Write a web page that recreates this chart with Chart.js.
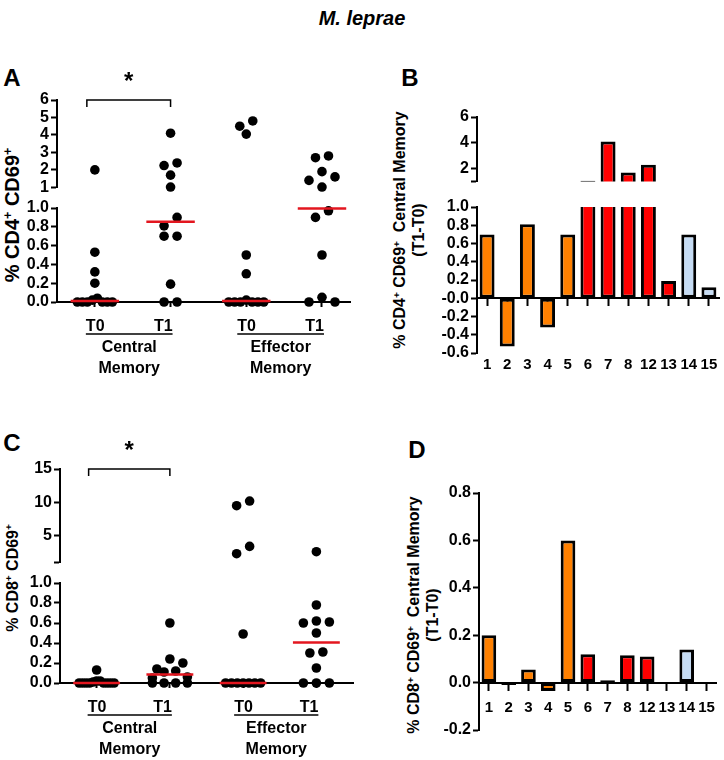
<!DOCTYPE html>
<html>
<head>
<meta charset="utf-8">
<script src="https://cdn.jsdelivr.net/npm/chart.js@4.4.1/dist/chart.umd.min.js"></script>
<style>
  html, body { margin: 0; padding: 0; background: #fff; }
  #fig { position: relative; width: 724px; height: 760px; overflow: hidden;
         font-family: "Liberation Sans", Arial, sans-serif; font-weight: bold; color: #000; }
  #fig canvas { position: absolute; }
  .txt { position: absolute; transform: translate(-50%, -50%); white-space: nowrap; text-align: center; }
  .rot { position: absolute; transform: translate(-50%, -50%) rotate(-90deg); white-space: nowrap;
         text-align: center; line-height: 19px; }
  sup { font-size: 0.62em; vertical-align: 0.55em; line-height: 0; }
</style>
</head>
<body>
<div id="fig">
  <div class="txt" style="left:362px;top:18px;font-size:20px;font-style:italic">M. leprae</div>
  <div class="txt" style="left:12px;top:78px;font-size:24px">A</div>
  <div class="txt" style="left:410px;top:78px;font-size:24px">B</div>
  <div class="txt" style="left:12px;top:443px;font-size:24px">C</div>
  <div class="txt" style="left:417px;top:450px;font-size:24px">D</div>
  <div class="rot" style="left:12px;top:215px;font-size:20px">% CD4<sup>+</sup> CD69<sup>+</sup></div>
  <div class="rot" style="left:12px;top:578px;font-size:16px">% CD8<sup>+</sup> CD69<sup>+</sup></div>
  <div class="rot" style="left:409px;top:230px;font-size:16px">% CD4<sup>+</sup> CD69<sup>+</sup>&nbsp; Central Memory<br>(T1-T0)</div>
  <div class="rot" style="left:423px;top:615px;font-size:16px">% CD8<sup>+</sup> CD69<sup>+</sup>&nbsp; Central Memory<br>(T1-T0)</div>
</div>
<script>
// dot plot groups (T0 / T1 for central and effector memory)
const groupTicks = ['T0', 'T1', 'T0', 'T1'];
const groupNames = [['Central', 'Memory'], ['Effector', 'Memory']];

const cd4CmT0 = [2.0, 0.53, 0.32, 0.2, 0.04, 0.02, 0, 0, 0, 0, 0, 0];
const cd4CmT1 = [4.1, 2.4, 2.25, 1.7, 1.02, 0.9, 0.81, 0.7, 0.7, 0.19, 0, 0];
const cd4EmT0 = [4.8, 4.5, 4.05, 0.5, 0.3, 0.02, 0, 0, 0, 0, 0, 0];
const cd4EmT1 = [2.8, 2.7, 1.9, 1.6, 1.4, 1.02, 0.97, 0.9, 0.5, 0.05, 0, 0];

const cd8CmT0 = [0.13, 0.02, 0.02, 0.01, 0, 0, 0, 0, 0, 0, 0, 0];
const cd8CmT1 = [0.6, 0.24, 0.2, 0.14, 0.12, 0.11, 0.06, 0.05, 0, 0, 0, 0];
const cd8EmT0 = [10.2, 9.5, 3.4, 2.3, 0.49, 0, 0, 0, 0, 0, 0, 0];
const cd8EmT1 = [2.6, 0.78, 0.62, 0.61, 0.6, 0.5, 0.31, 0.3, 0.15, 0, 0, 0];

// per-patient differences (T1-T0), central memory
const patients = ['1', '2', '3', '4', '5', '6', '7', '8', '12', '13', '14', '15'];
const patientGroup = [0, 0, 0, 0, 0, 1, 1, 1, 1, 1, 2, 2];
const cd4CmDiff = [0.7, -0.53, 0.81, -0.32, 0.7, 1.05, 4.1, 1.7, 2.3, 0.19, 0.7, 0.12];
const cd8CmDiff = [0.2, -0.01, 0.055, -0.035, 0.6, 0.12, 0.01, 0.115, 0.11, 0, 0.14, 0];

const barFill = ['#ff8000', '#ff0000', '#c6dcf4'];
const FONT = '"Liberation Sans", Arial, sans-serif';

Chart.defaults.font.family = FONT;
Chart.defaults.color = '#000';
Chart.defaults.animation = false;
Chart.defaults.events = [];
Chart.defaults.plugins.legend.display = false;
Chart.defaults.plugins.tooltip.enabled = false;

const fig = document.getElementById('fig');

function makeCanvas(left, top, w, h) {
    const c = document.createElement('canvas');
    c.width = w;
    c.height = h;
    c.style.left = left + 'px';
    c.style.top = top + 'px';
    c.style.width = w + 'px';
    c.style.height = h + 'px';
    fig.appendChild(c);
    return c;
}

function median(vals) {
    const s = [...vals].sort((a, b) => a - b);
    const m = s.length / 2;
    return s.length % 2 ? s[Math.floor(m)] : (s[m - 1] + s[m]) / 2;
}

function yScale(min, max, axisW, tickVals, fmt, step) {
    return {
        min: min,
        max: max,
        afterFit: s => { s.width = axisW; },
        afterBuildTicks: tickVals ? s => { s.ticks = tickVals.map(v => ({ value: v })); } : undefined,
        ticks: { stepSize: step, autoSkip: false, padding: 2, font: { size: 16, weight: 'bold' }, callback: fmt },
        grid: { drawOnChartArea: false, tickLength: 6, tickWidth: 2, tickColor: '#000' },
        border: { color: '#000', width: 2 }
    };
}

// significance bracket with a star above it
const bracket = {
    id: 'bracket',
    afterDraw(chart, args, o) {
        if (!o.pair) return;
        const { ctx, scales: { x, y } } = chart;
        const xa = x.getPixelForValue(o.pair[0]) - 8;
        const xb = x.getPixelForValue(o.pair[1]);
        const yb = y.getPixelForValue(y.max);
        ctx.save();
        ctx.strokeStyle = '#000';
        ctx.lineWidth = 1.5;
        ctx.beginPath();
        ctx.moveTo(xa, yb + 7);
        ctx.lineTo(xa, yb);
        ctx.lineTo(xb, yb);
        ctx.lineTo(xb, yb + 7);
        ctx.stroke();
        ctx.fillStyle = '#000';
        ctx.font = 'bold 24px ' + FONT;
        ctx.textAlign = 'center';
        ctx.textBaseline = 'alphabetic';
        ctx.fillText(o.text, (xa + xb) / 2, yb - 11);
        ctx.restore();
    }
};

// T0/T1 labels, underline and group name below the x axis
const groupLabels = {
    id: 'groupLabels',
    afterDraw(chart, args, o) {
        if (!o.names) return;
        const { ctx, chartArea: a, scales: { x } } = chart;
        ctx.save();
        ctx.fillStyle = '#000';
        ctx.strokeStyle = '#000';
        ctx.font = 'bold 16px ' + FONT;
        ctx.textBaseline = 'middle';
        o.names.forEach((lines, i) => {
            const x0 = x.getPixelForValue(2 * i + 1) - 9;
            const x1 = x.getPixelForValue(2 * i + 2) + 2;
            ctx.textAlign = 'left';
            ctx.fillText(o.ticks[2 * i], x0, a.bottom + 25);
            ctx.textAlign = 'right';
            ctx.fillText(o.ticks[2 * i + 1], x1, a.bottom + 25);
            ctx.lineWidth = 1.5;
            ctx.beginPath();
            ctx.moveTo(x0, a.bottom + 32);
            ctx.lineTo(x1, a.bottom + 32);
            ctx.stroke();
            ctx.textAlign = 'center';
            lines.forEach((t, k) => ctx.fillText(t, (x0 + x1) / 2, a.bottom + 46 + 21 * k));
        });
        ctx.restore();
    }
};

// spread dots sideways the way a column scatter does
function swarm(chart) {
    const xs = chart.scales.x, ys = chart.scales.y;
    chart.data.datasets.forEach(ds => {
        if (!ds.center) return;
        const cx = xs.getPixelForValue(ds.center);
        const pts = ds.data.slice().sort((a, b) => b.y - a.y);
        let row = [];
        const flush = () => {
            const n = row.length;
            const sp = n > 1 ? Math.min(13, 35 / (n - 1)) : 0;
            row.forEach((p, i) => {
                let k;
                if (n % 2) k = i === 0 ? 0 : Math.ceil(i / 2) * (i % 2 ? 1 : -1);
                else k = (Math.floor(i / 2) + 0.5) * (i % 2 ? -1 : 1);
                p.x = xs.getValueForPixel(cx + k * sp);
            });
            row = [];
        };
        pts.forEach(p => {
            if (row.length && ys.getPixelForValue(p.y) - ys.getPixelForValue(row[0].y) >= 11) flush();
            row.push(p);
        });
        flush();
    });
    chart.update('none');
}

function dotChart(canvas, groups, sec) {
    const inSec = sec.upper ? v => v > sec.min : v => v <= sec.max;
    const datasets = [];
    groups.forEach((vals, g) => {
        const m = median(vals);
        if (inSec(m)) {
            datasets.push({
                type: 'line',
                data: [{ x: g + 1 - 0.32, y: m }, { x: g + 1 + 0.32, y: m }],
                borderColor: '#e3161f', borderWidth: 2.5, pointRadius: 0, order: 0, clip: false
            });
        }
        datasets.push({
            type: 'scatter',
            data: vals.filter(inSec).map(v => ({ x: g + 1, y: v })),
            center: g + 1,
            backgroundColor: '#000', borderWidth: 0, pointRadius: 4.8, order: 1, clip: false
        });
    });
    const xScale = sec.upper
        ? { type: 'linear', display: false, min: 0.5, max: sec.xMax }
        : {
            type: 'linear', min: 0.5, max: sec.xMax,
            afterBuildTicks: s => { s.ticks = groups.map((v, g) => ({ value: g + 1 })); },
            afterFit: s => { s.height = 6; },
            ticks: { display: false },
            grid: { drawOnChartArea: false, tickLength: 5, tickWidth: 2, tickColor: '#000' },
            border: { color: '#000', width: 2 }
        };
    const chart = new Chart(canvas, {
        type: 'scatter',
        data: { datasets },
        options: {
            responsive: false,
            layout: { padding: { top: sec.padT, bottom: sec.padB, left: 0, right: sec.padR } },
            scales: {
                x: xScale,
                y: yScale(sec.min, sec.max, sec.axisW, sec.ticks, sec.fmt, sec.step)
            },
            plugins: {
                bracket: sec.bracket || {},
                groupLabels: sec.labels || {}
            }
        },
        plugins: [bracket, groupLabels]
    });
    swarm(chart);
    return chart;
}

function barDatasets(vals) {
    return [{
        data: vals,
        backgroundColor: patientGroup.map(g => barFill[g]),
        borderColor: '#000',
        borderWidth: 3,
        borderSkipped: false,
        barPercentage: 0.74,
        categoryPercentage: 1,
        clip: 0
    }];
}

const zeroAxis = {
    type: 'category', axis: 'x', position: { y: 0 }, offset: true, z: 1,
    grid: { offset: false, drawOnChartArea: false, tickLength: 7, tickWidth: 2, tickColor: '#000' },
    border: { color: '#000', width: 2 }
};
const barTickFont = { size: 15, weight: 'bold' };

const cd4Groups = [cd4CmT0, cd4CmT1, cd4EmT0, cd4EmT1];
const cd8Groups = [cd8CmT0, cd8CmT1, cd8EmT0, cd8EmT1];

// Panel A
dotChart(makeCanvas(0, 70, 360, 129), cd4Groups, {
    upper: true, min: 1, max: 6, xMax: 4.37, axisW: 57, padT: 30, padB: 6, padR: 10,
    ticks: [1, 2, 3, 4, 5, 6], fmt: v => String(v),
    bracket: { pair: [1, 2], text: '*' }
});
dotChart(makeCanvas(0, 196, 360, 184), cd4Groups, {
    upper: false, min: 0, max: 1, xMax: 4.37, axisW: 57, padT: 12, padB: 72, padR: 10,
    step: 0.2, fmt: v => v.toFixed(1),
    labels: { ticks: groupTicks, names: groupNames }
});

// Panel C
dotChart(makeCanvas(0, 430, 363, 144), cd8Groups, {
    upper: true, min: 1, max: 15, xMax: 4.5, axisW: 60, padT: 39, padB: 6, padR: 10,
    ticks: [1, 5, 10, 15], fmt: v => v === 1 ? '' : String(v),
    bracket: { pair: [1, 2], text: '*' }
});
dotChart(makeCanvas(0, 571, 363, 188), cd8Groups, {
    upper: false, min: 0, max: 1, xMax: 4.5, axisW: 60, padT: 12, padB: 70, padR: 10,
    step: 0.2, fmt: v => v.toFixed(1),
    labels: { ticks: groupTicks, names: groupNames }
});

// Panel B (broken axis: upper and lower parts)
new Chart(makeCanvas(432, 105, 292, 88), {
    type: 'bar',
    data: { labels: patients, datasets: barDatasets(cd4CmDiff) },
    options: {
        responsive: false,
        layout: { padding: { top: 12, bottom: 4, left: 0, right: 5 } },
        scales: {
            x: { display: false, offset: true },
            y: yScale(1, 6, 45, [1, 2, 4, 6], v => v === 1 ? '' : String(v))
        }
    }
});
new Chart(makeCanvas(432, 195, 292, 182), {
    type: 'bar',
    data: { labels: patients, datasets: barDatasets(cd4CmDiff) },
    options: {
        responsive: false,
        layout: { padding: { top: 12, bottom: 2, left: 0, right: 5 } },
        scales: {
            x: {
                offset: true,
                afterFit: s => { s.height = 22; },
                grid: { display: false, drawTicks: false },
                border: { display: false },
                ticks: { padding: 3, autoSkip: false, maxRotation: 0, minRotation: 0, font: barTickFont }
            },
            x2: Object.assign({}, zeroAxis, { ticks: { display: false } }),
            y: yScale(-0.6, 1.0, 45, null, v => Math.abs(v) < 1e-9 ? '-0.0' : v.toFixed(1), 0.2)
        }
    }
});

// Panel D
new Chart(makeCanvas(434, 481, 290, 261), {
    type: 'bar',
    data: { labels: patients, datasets: barDatasets(cd8CmDiff) },
    options: {
        responsive: false,
        layout: { padding: { top: 12, bottom: 12, left: 0, right: 4 } },
        scales: {
            x: Object.assign({}, zeroAxis, {
                ticks: { padding: 9, autoSkip: false, maxRotation: 0, minRotation: 0, font: barTickFont }
            }),
            y: yScale(-0.2, 0.8, 45, null, v => Math.abs(v) < 1e-9 ? '0.0' : v.toFixed(1), 0.2)
        }
    }
});
</script>
</body>
</html>
